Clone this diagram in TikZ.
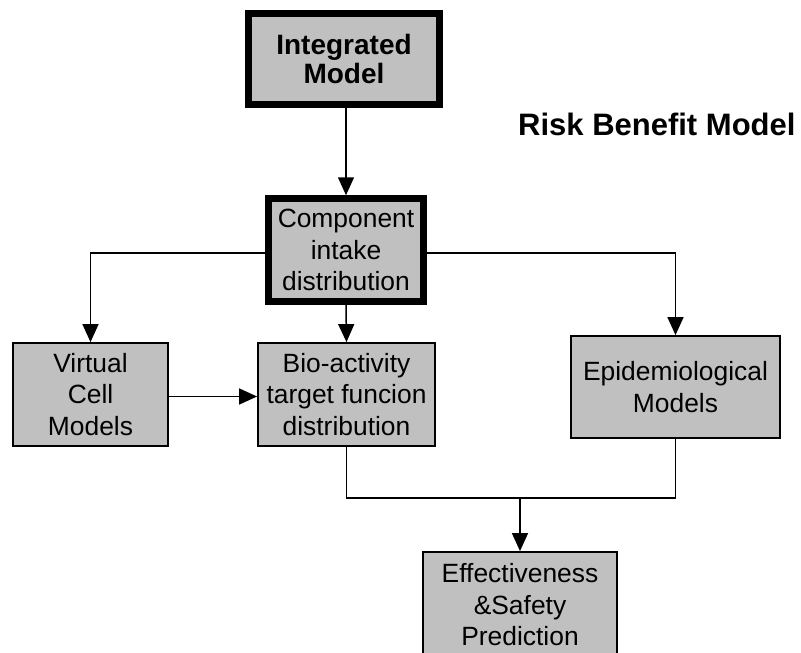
\documentclass[tikz,border=0pt]{standalone}
\usepackage{fontspec}
\setmainfont{Liberation Sans}
\usetikzlibrary{arrows.meta}
\definecolor{boxgray}{RGB}{192,192,192}
\tikzset{
  box/.style={draw=black, fill=boxgray, line width=1.8pt, align=center, inner sep=0pt,
    font=\fontsize{26.4}{31.5}\selectfont},
  thickbox/.style={box, line width=6.5pt},
  conn/.style={line width=1.5pt},
  arr/.style={conn, -{Triangle[length=18pt,width=16pt]}}
}
\begin{document}
\begin{tikzpicture}[x=1pt,y=-1pt]
\useasboundingbox (0,0) rectangle (801,653);
\clip (0,0) rectangle (801,653);
\node[thickbox, minimum width=191pt, minimum height=91pt,
  font=\fontsize{28}{29}\selectfont\bfseries] (int) at (344,59) {Integrated\\Model};
\node[font=\fontsize{31}{34}\selectfont\bfseries, anchor=base west, inner sep=0pt] (title) at (518,135) {Risk Benefit Model};
\node[thickbox, minimum width=155pt, minimum height=103pt] (comp) at (346,250) {Component\\intake\\distribution};
\node[box, minimum width=155pt, minimum height=103pt] (vc) at (90.5,394.5) {Virtual\\Cell\\Models};
\node[box, minimum width=177pt, minimum height=103pt] (bio) at (346.5,394.5) {Bio-activity\\target funcion\\distribution};
\node[box, minimum width=209pt, minimum height=102pt] (epi) at (675.5,387) {Epidemiological\\Models};
\node[box, minimum width=194pt, minimum height=106pt] (eff) at (520,605) {Effectiveness\\\&Safety\\Prediction};
\coordinate (m) at (520,498);
\draw[arr] (int.south -| comp.north) -- (comp.north);
\draw[arr] ([yshift=-3pt]comp.west) -| (vc.north);
\draw[arr] ([yshift=-3pt]comp.east) -| (epi.north);
\draw[arr] (comp.south) -- (bio.north);
\draw[arr] ([yshift=-2pt]vc.east) -- ([yshift=-2pt]bio.west);
\draw[conn] (bio.south) |- (m);
\draw[conn] (epi.south) |- (m);
\draw[arr] (m) -- (eff.north);
\end{tikzpicture}
\end{document}
